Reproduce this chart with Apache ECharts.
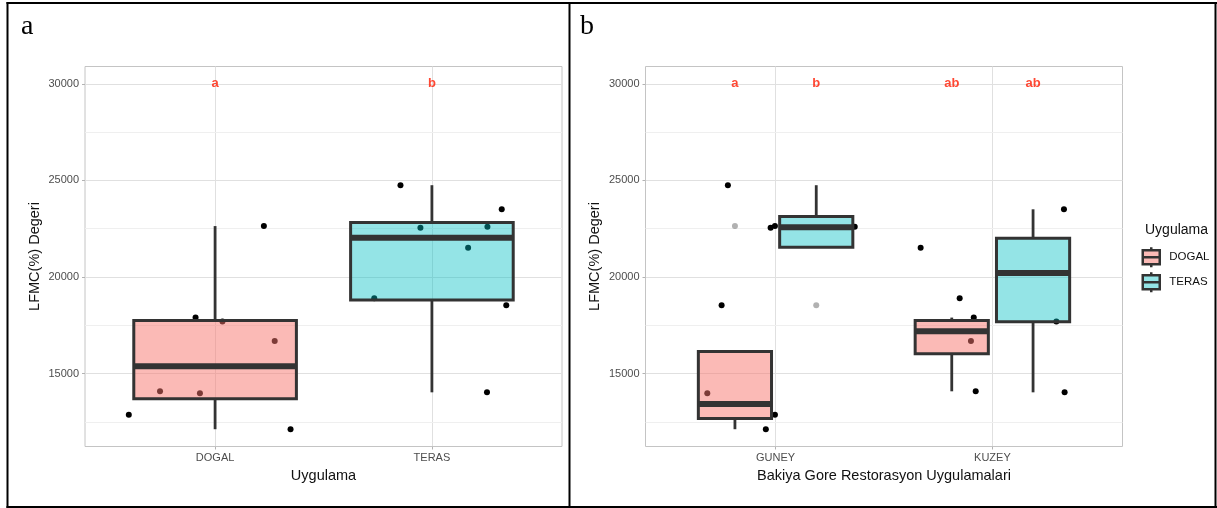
<!DOCTYPE html>
<html><head><meta charset="utf-8">
<script src="https://cdn.jsdelivr.net/npm/echarts@6/dist/echarts.min.js"></script>
<style>html,body{margin:0;padding:0;background:#fff}#c{width:1217px;height:508px}</style>
</head><body><div id="c"></div>
<script>
// ---------------- data ----------------
const groups = ['DOGAL', 'TERAS'];
const sites = ['GUNEY', 'KUZEY'];

// observations
const obsDogalGuney = [12126, 12869, 13985, 22637];
const obsDogalKuzey = [14088, 16686, 17696, 17902];
const obsTerasGuney = [18545, 22549, 22601, 24752];
const obsTerasKuzey = [14035, 18897, 21510, 23505];

// horizontal jitter of each point (category units), panel a (around group)
const jitterA_DogalGuney = [0.348, -0.398, -0.070, 0.225];
const jitterA_DogalKuzey = [-0.254, 0.275, 0.034, -0.090];
const jitterA_TerasGuney = [0.343, -0.053, 0.256, -0.145];
const jitterA_TerasKuzey = [0.254, -0.266, 0.167, 0.322];
// panel b (around site)
const jitterB_DogalGuney = [-0.045, -0.003, -0.315, -0.003];
const jitterB_DogalKuzey = [-0.077, -0.099, 0.295, -0.086];
const jitterB_TerasGuney = [-0.249, -0.023, 0.365, -0.220];
const jitterB_TerasKuzey = [0.333, -0.151, -0.331, 0.330];

// box statistics [min, Q1, median, Q3, max]
const boxA_Dogal = [12126, 13706, 15387, 17748, 22637];
const boxA_Teras = [14035, 18809, 22030, 22827, 24752];
const boxB_DogalGuney = [12126, 12683, 13427, 16148, 16148];
const boxB_DogalKuzey = [14088, 16037, 17191, 17748, 17902];
const boxB_TerasGuney = [21548, 21548, 22575, 23139, 24752];
const boxB_TerasKuzey = [14035, 17682, 20204, 22009, 23505];

const outliersB_DogalGuney = [22637];
const outliersB_TerasGuney = [18545];

const lettersA = ['a', 'b'];
const lettersB = ['a', 'b', 'ab', 'ab'];
const letterY = 30000;

const xBreaks = [1, 2];
const yBreaks = [15000, 20000, 25000, 30000];
const yMinorBreaks = [12500, 17500, 22500, 27500];
const yLimits = [11232, 30894];
const xLimits = [0.4, 2.6];

// ---------------- styling / layout ----------------
const SANS = '"Liberation Sans", Arial, Helvetica, sans-serif';
const SERIF = '"Liberation Serif", "Times New Roman", serif';
const FILL_DOGAL = 'rgba(248,118,109,0.5)';
const FILL_TERAS = 'rgba(0,191,196,0.42)';
const STROKE = '#333333';
const DODGE = 0.1875;
const BOX_W_A = 0.75;
const BOX_W_B = 0.3375;

const chart = echarts.init(document.getElementById('c'), null, {renderer: 'canvas'});

function jitterPts(center, vals, jit) {
  return vals.map((v, i) => [center + jit[i], v]);
}

function boxRenderer(fill, widthUnits) {
  return function (params, api) {
    const x = api.value(0);
    const lo = api.coord([x, api.value(1)]);
    const q1 = api.coord([x, api.value(2)]);
    const md = api.coord([x, api.value(3)]);
    const q3 = api.coord([x, api.value(4)]);
    const hi = api.coord([x, api.value(5)]);
    const hw = api.size([widthUnits, 0])[0] / 2;
    const cx = q1[0];
    return {
      type: 'group',
      children: [
        {type: 'line', shape: {x1: cx, y1: q1[1], x2: cx, y2: lo[1]}, style: {stroke: STROKE, lineWidth: 2.8}},
        {type: 'line', shape: {x1: cx, y1: q3[1], x2: cx, y2: hi[1]}, style: {stroke: STROKE, lineWidth: 2.8}},
        {type: 'rect', shape: {x: cx - hw, y: q3[1], width: 2 * hw, height: q1[1] - q3[1]}, style: {fill: fill, stroke: STROKE, lineWidth: 3}},
        {type: 'line', shape: {x1: cx - hw, y1: md[1], x2: cx + hw, y2: md[1]}, style: {stroke: STROKE, lineWidth: 6}}
      ]
    };
  };
}

function xAxisCfg(gi, labels, name) {
  return {
    gridIndex: gi, type: 'value', min: xLimits[0], max: xLimits[1], minInterval: 1, maxInterval: 1,
    axisLine: {show: false},
    axisTick: {show: true, length: 3, customValues: xBreaks, lineStyle: {color: '#b3b3b3', width: 1}},
    axisLabel: {
      color: '#4d4d4d', fontSize: 11, fontFamily: SANS, margin: 6,
      formatter: v => (Number.isInteger(v) && labels[v - 1]) ? labels[v - 1] : ''
    },
    splitLine: {show: true, lineStyle: {color: '#e0e0e0', width: 1}},
    name: name, nameLocation: 'middle', nameGap: 20,
    nameTextStyle: {color: '#111', fontSize: 14.5, fontFamily: SANS}
  };
}

function yAxisCfg(gi) {
  return {
    gridIndex: gi, type: 'value', min: yLimits[0], max: yLimits[1], minInterval: 5000, maxInterval: 5000,
    axisLine: {show: false},
    axisTick: {show: true, length: 3, customValues: yBreaks, lineStyle: {color: '#b3b3b3', width: 1}},
    axisLabel: {
      color: '#4d4d4d', fontSize: 11, fontFamily: SANS, margin: 6,
      formatter: v => yBreaks.includes(v) ? String(v) : ''
    },
    splitLine: {show: true, lineStyle: {color: '#e0e0e0', width: 1}},
    name: 'LFMC(%) Degeri', nameLocation: 'middle', nameGap: 43, nameRotate: 90,
    nameTextStyle: {color: '#111', fontSize: 14.5, fontFamily: SANS}
  };
}

function minorGridSeries(gi) {
  return {
    type: 'scatter', xAxisIndex: gi, yAxisIndex: gi, z: 0, silent: true, data: [],
    markLine: {
      z: 0, silent: true, symbol: 'none', label: {show: false}, animation: false,
      lineStyle: {color: '#efefef', width: 1, type: 'solid'},
      emphasis: {disabled: true},
      data: yMinorBreaks.map(v => ({yAxis: v}))
    }
  };
}

function pointsSeries(gi, data) {
  return {
    type: 'scatter', xAxisIndex: gi, yAxisIndex: gi, z: 1, silent: true,
    symbolSize: 6, itemStyle: {color: '#000', opacity: 1},
    data: data
  };
}

function boxSeries(gi, name, fill, widthUnits, data) {
  return {
    type: 'custom', name: name, xAxisIndex: gi, yAxisIndex: gi, z: 2, silent: true,
    itemStyle: {color: fill},
    renderItem: boxRenderer(fill, widthUnits),
    encode: {x: 0, y: [1, 2, 3, 4, 5]},
    data: data
  };
}

function letterSeries(gi, xs, letters) {
  return {
    type: 'scatter', xAxisIndex: gi, yAxisIndex: gi, z: 5, silent: true,
    symbolSize: 1, itemStyle: {color: 'rgba(0,0,0,0)'},
    label: {show: true, position: 'inside', formatter: p => letters[p.dataIndex],
      color: '#ff1a00', fontWeight: 'bold', fontSize: 13, fontFamily: SANS},
    data: xs.map(x => [x, letterY])
  };
}

// panel a points (group positions 1,2)
const ptsA = [].concat(
  jitterPts(1, obsDogalGuney, jitterA_DogalGuney),
  jitterPts(1, obsDogalKuzey, jitterA_DogalKuzey),
  jitterPts(2, obsTerasGuney, jitterA_TerasGuney),
  jitterPts(2, obsTerasKuzey, jitterA_TerasKuzey)
);
// panel b points (site positions 1,2)
const ptsB = [].concat(
  jitterPts(1, obsDogalGuney, jitterB_DogalGuney),
  jitterPts(1, obsTerasGuney, jitterB_TerasGuney),
  jitterPts(2, obsDogalKuzey, jitterB_DogalKuzey),
  jitterPts(2, obsTerasKuzey, jitterB_TerasKuzey)
);

const legendIcon = 'path://M8.5 0L8.5 3M0 3L17 3L17 17L0 17ZM0 10L17 10M8.5 17L8.5 20';

const option = {
  animation: false,
  backgroundColor: '#fff',
  textStyle: {fontFamily: SANS},
  title: [
    {text: 'a', left: 21, top: 13, padding: 0, textStyle: {fontFamily: SERIF, fontSize: 28, fontWeight: 'normal', color: '#000'}},
    {text: 'b', left: 580, top: 13, padding: 0, textStyle: {fontFamily: SERIF, fontSize: 28, fontWeight: 'normal', color: '#000'}},
    {text: 'Uygulama', left: 1145, top: 223, padding: 0, textStyle: {fontFamily: SANS, fontSize: 14, fontWeight: 'normal', color: '#111'}}
  ],
  legend: {
    orient: 'vertical', left: 1141.5, top: 246, padding: 0,
    itemWidth: 26, itemHeight: 20, itemGap: 2.5, symbolKeepAspect: true,
    selectedMode: false,
    textStyle: {fontFamily: SANS, fontSize: 11.5, color: '#111'},
    data: [
      {name: 'DOGAL', icon: legendIcon, itemStyle: {color: FILL_DOGAL, borderColor: STROKE, borderWidth: 2.5}},
      {name: 'TERAS', icon: legendIcon, itemStyle: {color: FILL_TERAS, borderColor: STROKE, borderWidth: 2.5}}
    ]
  },
  grid: [
    {left: 85, top: 66.5, width: 477, height: 380, show: true, borderColor: '#c4c4c4', borderWidth: 1, backgroundColor: 'transparent', containLabel: false, outerBoundsMode: 'none'},
    {left: 645.5, top: 66.5, width: 477, height: 380, show: true, borderColor: '#c4c4c4', borderWidth: 1, backgroundColor: 'transparent', containLabel: false, outerBoundsMode: 'none'}
  ],
  xAxis: [
    xAxisCfg(0, groups, 'Uygulama'),
    xAxisCfg(1, sites, 'Bakiya Gore Restorasyon Uygulamalari')
  ],
  yAxis: [yAxisCfg(0), yAxisCfg(1)],
  graphic: [
    {type: 'line', shape: {x1: 6.5, y1: 3, x2: 1217, y2: 3}, style: {stroke: '#000', lineWidth: 2}, z: 100},
    {type: 'line', shape: {x1: 7.5, y1: 2, x2: 7.5, y2: 508}, style: {stroke: '#000', lineWidth: 2}, z: 100},
    {type: 'line', shape: {x1: 6.5, y1: 507, x2: 1217, y2: 507}, style: {stroke: '#000', lineWidth: 2}, z: 100},
    {type: 'line', shape: {x1: 569.5, y1: 2, x2: 569.5, y2: 508}, style: {stroke: '#000', lineWidth: 2}, z: 100},
    {type: 'line', shape: {x1: 1215.5, y1: 2, x2: 1215.5, y2: 508}, style: {stroke: '#000', lineWidth: 2}, z: 100}
  ],
  series: [
    minorGridSeries(0),
    pointsSeries(0, ptsA),
    boxSeries(0, 'DOGAL', FILL_DOGAL, BOX_W_A, [[1].concat(boxA_Dogal)]),
    boxSeries(0, 'TERAS', FILL_TERAS, BOX_W_A, [[2].concat(boxA_Teras)]),
    letterSeries(0, [1, 2], lettersA),

    minorGridSeries(1),
    pointsSeries(1, ptsB),
    boxSeries(1, 'DOGAL', FILL_DOGAL, BOX_W_B, [[1 - DODGE].concat(boxB_DogalGuney), [2 - DODGE].concat(boxB_DogalKuzey)]),
    boxSeries(1, 'TERAS', FILL_TERAS, BOX_W_B, [[1 + DODGE].concat(boxB_TerasGuney), [2 + DODGE].concat(boxB_TerasKuzey)]),
    {
      type: 'scatter', xAxisIndex: 1, yAxisIndex: 1, z: 4, silent: true,
      symbolSize: 6, itemStyle: {color: 'rgba(0,0,0,0.38)'},
      data: [].concat(
        outliersB_DogalGuney.map(v => [1 - DODGE, v]),
        outliersB_TerasGuney.map(v => [1 + DODGE, v])
      )
    },
    letterSeries(1, [1 - DODGE, 1 + DODGE, 2 - DODGE, 2 + DODGE], lettersB)
  ]
};
chart.setOption(option);
</script>
</body></html>
